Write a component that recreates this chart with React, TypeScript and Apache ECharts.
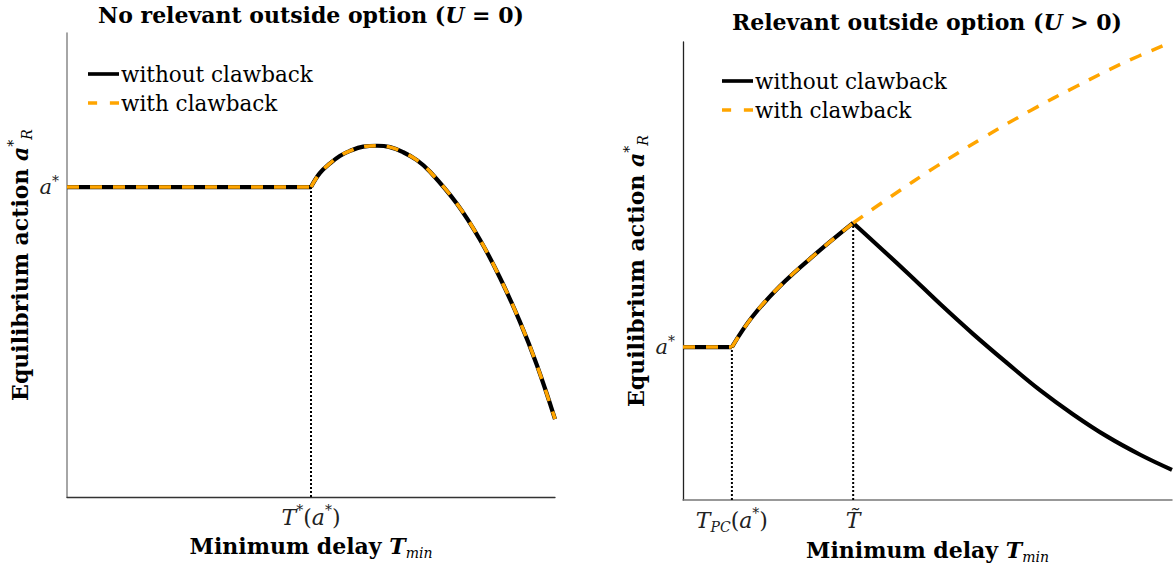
import React, { useEffect, useRef } from "react";
import * as echarts from "echarts";

// ---------- data ----------
// Left panel: no relevant outside option (U = 0)
const leftFlat: number[][] = [[0, 6.68], [5.0, 6.68]];
const leftCurve: number[][] = [
  [5.0, 6.68], [5.18, 6.98], [5.39, 7.19], [5.59, 7.35], [5.8, 7.46],
  [6.07, 7.55], [6.35, 7.57], [6.62, 7.54], [6.89, 7.43], [7.17, 7.26],
  [7.44, 7.01], [7.99, 6.32], [8.46, 5.55], [8.87, 4.73], [9.28, 3.78],
  [9.63, 2.84], [10.0, 1.68],
];
const leftGuide: number[][] = [[5.0, 0], [5.0, 6.68]];
const leftXTicks: number[] = [5.0];
const leftXTickLabels: string[] = ["{i|T}{sup|*}{n|(}{i|a}{sup|*}{n|)}"];
const leftYTicks: number[] = [6.68];

// Right panel: relevant outside option (U > 0)
const rightFlat: number[][] = [[0, 3.34], [1.0, 3.34]];
const rightRise: number[][] = [
  [1.0, 3.34], [1.41, 3.99], [1.98, 4.67], [2.73, 5.39], [3.48, 6.05],
];
const rightFall: number[][] = [
  [3.48, 6.05], [4.58, 4.97], [5.26, 4.28], [5.93, 3.63], [6.63, 2.99],
  [7.3, 2.4], [7.98, 1.87], [8.67, 1.39], [9.35, 0.99], [10.0, 0.66],
];
const rightClaw: number[][] = [
  [3.48, 6.05], [4.23, 6.61], [5.19, 7.29], [6.14, 7.91], [7.1, 8.5],
  [8.06, 9.04], [9.0, 9.54], [10.0, 10.0],
];
const rightGuides: number[][][] = [
  [[1.0, 0], [1.0, 3.34]],
  [[3.48, 0], [3.48, 6.05]],
];
const rightXTicks: number[] = [1.0, 3.48];
const rightXTickLabels: string[] = [
  "{i|T}{sub|PC}{n|(}{i|a}{sup|*}{n|)}",
  "{i|T\u0303}",
];
const rightYTicks: number[] = [3.34];

const seriesNames = ["without clawback", "with clawback"];
const titles = [
  "{b|No relevant outside option (}{bi|U}{b| = 0)}",
  "{b|Relevant outside option (}{bi|U}{b| > 0)}",
];
const xName = "{b|Minimum delay }{bi|T}{bsub|min}";
const yName = "{b|Equilibrium action }{bi|a}{bsup|*}{bsub|R}";

// ---------- styling ----------
const FONT = "DejaVu Serif";
const BLACK = "#000000";
const ORANGE = "#FFA500";

const mathRich = (size: number) => ({
  n: { fontFamily: FONT, fontSize: size, color: "#222", lineHeight: size + 6 },
  i: { fontFamily: FONT, fontSize: size, fontStyle: "italic", color: "#222", lineHeight: size + 6 },
  sup: { fontFamily: FONT, fontSize: Math.round(size * 0.65), color: "#222", verticalAlign: "top", lineHeight: size * 0.65 },
  sub: { fontFamily: FONT, fontSize: Math.round(size * 0.65), fontStyle: "italic", color: "#222", verticalAlign: "bottom", lineHeight: size * 0.65 },
});

const boldRich = (size: number) => ({
  b: { fontFamily: FONT, fontSize: size, fontWeight: "bold", color: "#000", lineHeight: size + 6 },
  bi: { fontFamily: FONT, fontSize: size, fontWeight: "bold", fontStyle: "italic", color: "#000", lineHeight: size + 6 },
  bsup: { fontFamily: FONT, fontSize: Math.round(size * 0.65), fontStyle: "italic", color: "#000", verticalAlign: "top", lineHeight: size * 0.65 },
  bsub: { fontFamily: FONT, fontSize: Math.round(size * 0.65), fontStyle: "italic", color: "#000", verticalAlign: "bottom", lineHeight: size * 0.65 },
});

function makeLine(name: string, data: number[][], idx: number, color: string, width: number, type: any, z: number, smooth: number | boolean = 0.4) {
  return {
    type: "line",
    name,
    data,
    xAxisIndex: idx,
    yAxisIndex: idx,
    symbol: "none",
    showSymbol: false,
    smooth,
    silent: true,
    z,
    lineStyle: { color, width, type, cap: "butt", join: "round" },
  };
}

function xAxisFor(idx: number, ticks: number[], labels: string[], lineColor: string, lineWidth: number) {
  return {
    type: "value",
    gridIndex: idx,
    min: 0,
    max: 10,
    splitLine: { show: false },
    axisTick: { show: false },
    axisLine: { show: true, onZero: false, lineStyle: { color: lineColor, width: lineWidth } },
    axisLabel: {
      customValues: ticks,
      margin: 6,
      formatter: (v: number) => {
        const k = ticks.indexOf(v);
        return k >= 0 ? labels[k] : "";
      },
      rich: mathRich(22),
    },
    name: xName,
    nameLocation: "middle",
    nameGap: 35,
    nameTextStyle: { rich: boldRich(22) },
  };
}

function yAxisFor(idx: number, ticks: number[], lineColor: string, lineWidth: number) {
  return {
    type: "value",
    gridIndex: idx,
    min: 0,
    max: 10,
    splitLine: { show: false },
    axisTick: { show: false },
    axisLine: { show: true, onZero: false, lineStyle: { color: lineColor, width: lineWidth } },
    axisLabel: {
      customValues: ticks,
      margin: 8,
      formatter: () => "{i|a}{sup|*}",
      rich: mathRich(21),
    },
    name: yName,
    nameLocation: "middle",
    nameRotate: 90,
    nameGap: 33,
    nameTextStyle: { rich: boldRich(22) },
  };
}

const SOLID_ICON = "path://M0,0H34V4H0Z";
const DASH_ICON = "path://M0,0H10V4H0Z M24,0H34V4H24Z";

const legendFor = (left: number, top: number) => ({
  left,
  top,
  padding: 0,
  orient: "vertical",
  itemWidth: 31,
  itemHeight: 4,
  itemGap: 5,
  selectedMode: false,
  textStyle: { fontFamily: FONT, fontSize: 21.5, color: "#000", lineHeight: 24, padding: [0, 0, 0, -3] },
  data: [
    { name: seriesNames[0], icon: SOLID_ICON, itemStyle: { color: BLACK, borderWidth: 0 } },
    { name: seriesNames[1], icon: DASH_ICON, itemStyle: { color: ORANGE, borderWidth: 0 } },
  ],
});

export default function App() {
  const ref = useRef<HTMLDivElement>(null);

  useEffect(() => {
    if (!ref.current) return;
    const chart = echarts.init(ref.current, null, { renderer: "svg" });
    const dash = [12, 11];
    const option: any = {
      animation: false,
      backgroundColor: "#ffffff",
      title: [
        { text: titles[0], left: 311, top: 1, padding: 0, textAlign: "center", textStyle: { rich: boldRich(22) } },
        { text: titles[1], left: 927, top: 8, padding: 0, textAlign: "center", textStyle: { rich: boldRich(22) } },
      ],
      legend: [legendFor(88, 62), legendFor(722, 69)],
      grid: [
        { left: 67, top: 33, width: 488, height: 464 },
        { left: 683, top: 42, width: 489, height: 459 },
      ],
      xAxis: [
        xAxisFor(0, leftXTicks, leftXTickLabels, "#333", 1.3),
        xAxisFor(1, rightXTicks, rightXTickLabels, "#777", 1.5),
      ],
      yAxis: [
        yAxisFor(0, leftYTicks, "#888", 1.5),
        yAxisFor(1, rightYTicks, "#222", 1.3),
      ],
      series: [
        // left panel
        makeLine("guide-l", leftGuide, 0, BLACK, 2, [2, 2], 1, false),
        makeLine(seriesNames[0], leftFlat, 0, BLACK, 4.2, "solid", 2, false),
        makeLine(seriesNames[0], leftCurve, 0, BLACK, 4.2, "solid", 2),
        makeLine(seriesNames[1], leftFlat, 0, ORANGE, 3.5, dash, 3, false),
        makeLine(seriesNames[1], leftCurve, 0, ORANGE, 3.5, dash, 3),
        // right panel
        makeLine("guide-r1", rightGuides[0], 1, BLACK, 2, [2, 2], 1, false),
        makeLine("guide-r2", rightGuides[1], 1, BLACK, 2, [2, 2], 1, false),
        makeLine(seriesNames[0], rightFlat, 1, BLACK, 4.2, "solid", 2, false),
        makeLine(seriesNames[0], rightRise, 1, BLACK, 4.2, "solid", 2),
        makeLine(seriesNames[0], rightFall, 1, BLACK, 4.2, "solid", 2),
        makeLine(seriesNames[1], rightFlat, 1, ORANGE, 3.5, dash, 3, false),
        makeLine(seriesNames[1], rightRise, 1, ORANGE, 3.5, dash, 3),
        makeLine(seriesNames[1], rightClaw, 1, ORANGE, 3.5, dash, 3),
      ],
    };
    chart.setOption(option);
    return () => chart.dispose();
  }, []);

  return (
    <div
      ref={ref}
      style={{ position: "fixed", left: 0, top: 0, width: 1173, height: 569, background: "#fff" }}
    />
  );
}
